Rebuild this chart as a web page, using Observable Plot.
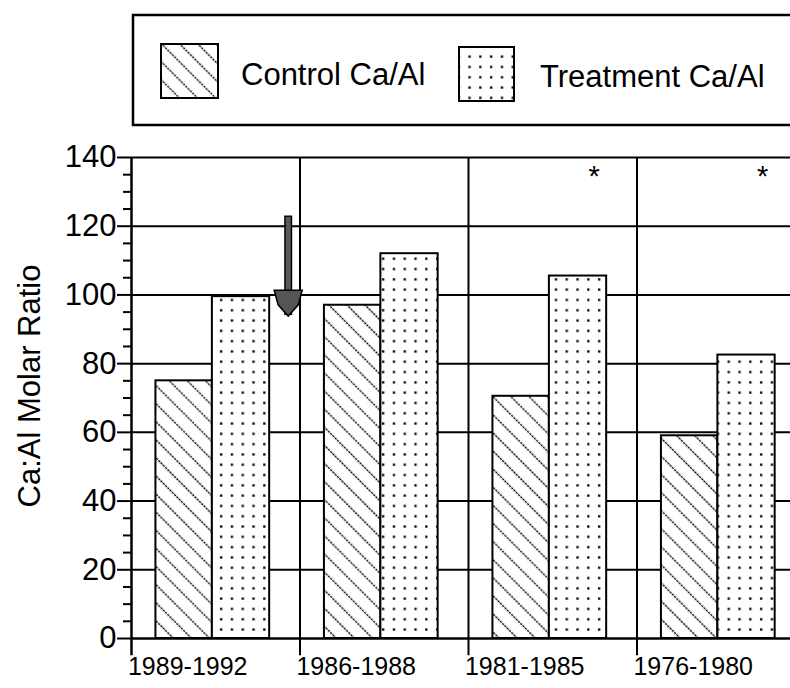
<!DOCTYPE html>
<html>
<head>
<meta charset="utf-8">
<script src="https://cdn.jsdelivr.net/npm/d3@7"></script>
<script src="https://cdn.jsdelivr.net/npm/@observablehq/plot@0.6"></script>
<style>
  html, body { margin: 0; padding: 0; background: #fff; overflow: hidden; width: 790px; height: 688px; }
  body { position: relative; font-family: "Liberation Sans", Arial, Helvetica, sans-serif; }
  #legend { position: absolute; left: 0; top: 0; }
  #chart { position: absolute; left: 0; top: 130px; width: 805px; }
  #defs { position: absolute; left: 0; top: 0; }
</style>
</head>
<body>
<svg id="defs" width="0" height="0">
  <defs>
    <pattern id="hatchPattern" patternUnits="userSpaceOnUse" width="12.8" height="12.8" patternTransform="rotate(-45)">
      <rect width="12.8" height="12.8" fill="#fff"></rect>
      <line x1="6.4" y1="0" x2="6.4" y2="12.8" stroke="#000" stroke-width="1.4" stroke-dasharray="2.2 1"></line>
    </pattern>
    <pattern id="dotPattern" patternUnits="userSpaceOnUse" width="10.8" height="10.3">
      <rect width="10.8" height="10.3" fill="#fff"></rect>
      <rect x="4" y="4" width="2.3" height="2.3" fill="#000"></rect>
    </pattern>
  </defs>
</svg>
<svg id="legend" width="790" height="130"></svg>
<div id="chart"></div>
<script>
// ---- data ----
const periods = ["1989-1992", "1986-1988", "1981-1985", "1976-1980"];
const seriesNames = ["Control Ca/Al", "Treatment Ca/Al"];
const controlRatio = [75, 97, 70.5, 59];
const treatmentRatio = [99.5, 112, 105.5, 82.5];
const significant = [false, false, true, true];
const yTickValues = [0, 20, 40, 60, 80, 100, 120, 140];
const yMinorTicks = [5, 10, 15, 25, 30, 35, 45, 50, 55, 65, 70, 75, 85, 90, 95, 105, 110, 115, 125, 130, 135];
const yLabel = "Ca:Al Molar Ratio";
const starLevel = 134.5;
const arrowNote = [{period: "1989-1992", from: 123, to: 94}];

// ---- layout (style) ----
const FONT = "'Liberation Sans', Arial, Helvetica, sans-serif";
const slots = [[0.145, 0.48], [0.48, 0.82]];
const fills = ["url(#hatchPattern)", "url(#dotPattern)"];

const rows = periods.flatMap((p, i) => [
  {period: p, index: i, series: seriesNames[0], s: 0, value: controlRatio[i]},
  {period: p, index: i, series: seriesNames[1], s: 1, value: treatmentRatio[i]}
]);

const arrowHead = {
  draw(ctx, size) {
    const r = Math.sqrt(size / Math.PI);
    ctx.moveTo(-r, -0.85 * r);
    ctx.lineTo(r, -0.85 * r);
    ctx.lineTo(0.72 * r, 0.2 * r);
    ctx.lineTo(0, r);
    ctx.lineTo(-0.72 * r, 0.2 * r);
    ctx.closePath();
  }
};

const barMark = (s) => Plot.rect(rows.filter(d => d.s === s), {
  x1: d => d.index + slots[s][0],
  x2: d => d.index + slots[s][1],
  y1: 0,
  y2: "value",
  fill: fills[s],
  stroke: "#000",
  strokeWidth: 2
});

const chart = Plot.plot({
  width: 805,
  height: 558,
  marginLeft: 131,
  marginRight: 0,
  marginTop: 27,
  marginBottom: 50,
  x: {domain: [0, periods.length], axis: null},
  y: {domain: [0, 140], axis: null},
  style: {fontFamily: FONT, fontSize: "25px", color: "#000", background: "transparent", overflow: "visible", maxWidth: "none"},
  marks: [
    Plot.ruleY(yTickValues.filter(v => v > 0), {x1: 0, x2: periods.length, stroke: "#000", strokeWidth: 2}),
    Plot.ruleX(d3.range(1, periods.length + 1), {y1: -5, y2: 140, stroke: "#000", strokeWidth: 2}),
    barMark(0),
    barMark(1),
    Plot.ruleX([0], {y1: -5, y2: 140, stroke: "#000", strokeWidth: 2.5}),
    Plot.ruleY([0], {x1: 0, x2: periods.length, stroke: "#000", strokeWidth: 2.5}),
    Plot.axisY(yMinorTicks, {tickSize: 8, tickFormat: () => "", strokeWidth: 2, label: null}),
    Plot.axisY(yTickValues, {tickSize: 14, tickPadding: 1, fontSize: 31, strokeWidth: 2, label: yLabel, labelArrow: "none", labelAnchor: "center", labelOffset: 114}),
    Plot.axisX(periods.map((p, i) => i + 0.5), {tickSize: 0, tickPadding: 19, tickFormat: d => periods[Math.floor(d)], fontSize: 25, dx: -28, label: null}),
    Plot.text(rows.filter(d => d.s === 1 && significant[d.index]), {x: d => d.index + 0.745, y: starLevel, text: () => "*", fontSize: 29}),
    Plot.ruleX(arrowNote, {x: d => periods.indexOf(d.period) + 0.93, y1: "from", y2: "to", stroke: "#000", strokeWidth: 8}),
    Plot.ruleX(arrowNote, {x: d => periods.indexOf(d.period) + 0.93, y1: "from", y2: "to", stroke: "#5a5a5a", strokeWidth: 5, insetTop: 1.5}),
    Plot.dot(arrowNote, {x: d => periods.indexOf(d.period) + 0.93, y: "to", dy: -13.5, r: 14, symbol: arrowHead, fill: "#555", stroke: "#000", strokeWidth: 1.5})
  ]
});
document.getElementById("chart").appendChild(chart);

// y-axis label: plain text, larger, nudged up as in the original
const yLab = d3.select(chart).select('g[aria-label="y-axis label"]');
yLab.selectAll("text").text(yLabel).style("font-size", "31px");
yLab.attr("transform", ((yLab.attr("transform") || "") + " translate(0,-12)").trim());

// ---- legend ----
const lg = d3.select("#legend");
lg.append("rect").attr("x", 133).attr("y", 15).attr("width", 720).attr("height", 110)
  .attr("fill", "none").attr("stroke", "#000").attr("stroke-width", 2.5);
const legendItems = [
  {name: seriesNames[0], fill: fills[0], sx: 161, sy: 44, sw: 57, sh: 54, tx: 241, ty: 85},
  {name: seriesNames[1], fill: fills[1], sx: 459, sy: 47, sw: 55, sh: 54, tx: 540, ty: 87}
];
for (const it of legendItems) {
  lg.append("rect").attr("x", it.sx).attr("y", it.sy).attr("width", it.sw).attr("height", it.sh)
    .attr("fill", it.fill).attr("stroke", "#000").attr("stroke-width", 2);
  lg.append("text").attr("x", it.tx).attr("y", it.ty).attr("font-family", FONT).attr("font-size", 31)
    .attr("fill", "#000").text(it.name);
}
</script>
</body>
</html>
